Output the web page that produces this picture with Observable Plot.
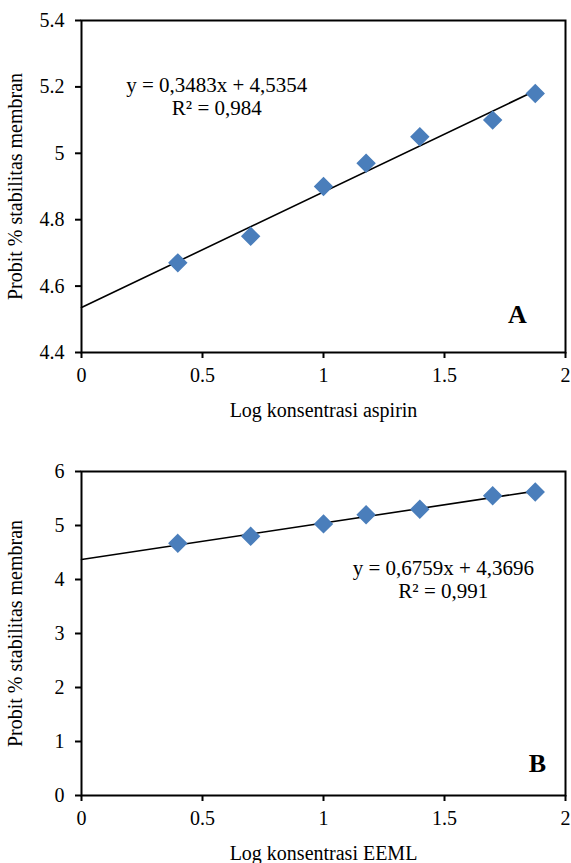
<!DOCTYPE html>
<html>
<head>
<meta charset="utf-8">
<script src="https://cdn.jsdelivr.net/npm/d3@7"></script>
<script src="https://cdn.jsdelivr.net/npm/@observablehq/plot@0.6"></script>
<style>
  html, body { margin: 0; padding: 0; background: #fff; overflow: hidden; }
  #chart svg { display: block; max-width: none !important; }
  #chart svg, #chart svg text, #chart svg g { font-family: "Liberation Serif", "Times New Roman", serif !important; }
</style>
</head>
<body>
<div id="chart"></div>
<script>
// Log concentration (x) shared by both panels
const logKonsentrasi = [0.398, 0.699, 1.0, 1.176, 1.398, 1.699, 1.875];
// Panel A: aspirin
const probitA = [4.67, 4.75, 4.90, 4.97, 5.05, 5.10, 5.18];
const slopeA = 0.3483, interceptA = 4.5354;
const eqA = ["y = 0,3483x + 4,5354", "R² = 0,984"];
// Panel B: EEML
const probitB = [4.67, 4.80, 5.03, 5.20, 5.30, 5.55, 5.62];
const slopeB = 0.6759, interceptB = 4.3696;
const eqB = ["y = 0,6759x + 4,3696", "R² = 0,991"];

const xTicks = [0, 0.5, 1, 1.5, 2];
const yTicksA = [4.4, 4.6, 4.8, 5, 5.2, 5.4];
const yTicksB = [0, 1, 2, 3, 4, 5, 6];

const FONT = '"Liberation Serif", "Times New Roman", serif';
const BLUE = "#4a7ebb";
const fmt = d => String(+d.toFixed(2));

function panel({probit, slope, intercept, eq, yDomain, yTicks, xLabel, tag, tagOffset, eqPos, height, marginTop, marginBottom}) {
  const pts = logKonsentrasi.map((x, i) => ({x, y: probit[i]}));
  const trend = [0, logKonsentrasi[logKonsentrasi.length - 1]].map(x => ({x, y: slope * x + intercept}));
  return Plot.plot({
    width: 571,
    height,
    marginLeft: 81,
    marginRight: 6,
    marginTop,
    marginBottom,
    style: {fontFamily: FONT, fontSize: "20px", color: "#000", background: "#fff"},
    x: {domain: [0, 2], ticks: xTicks, tickFormat: fmt, label: null},
    y: {domain: yDomain, ticks: yTicks, tickFormat: fmt, label: null},
    marks: [
      Plot.axisX({ticks: xTicks, tickFormat: fmt, tickSize: 6, tickPadding: 9, strokeWidth: 2, fontSize: 20, fontFamily: FONT,
        label: xLabel, labelAnchor: "center", labelOffset: 64, labelArrow: "none"}),
      Plot.axisY({ticks: yTicks, tickFormat: fmt, tickSize: 6, tickPadding: 11, strokeWidth: 2, fontSize: 20, fontFamily: FONT,
        label: "Probit % stabilitas membran", labelAnchor: "center", labelOffset: 74, labelArrow: "none"}),
      Plot.frame({stroke: "#000", strokeWidth: 2}),
      Plot.line(trend, {x: "x", y: "y", stroke: "#000", strokeWidth: 1.6}),
      Plot.dot(pts, {x: "x", y: "y", symbol: "diamond2", r: 7.8, fill: BLUE, stroke: BLUE}),
      Plot.text([eq.join("\n")], {x: eqPos[0], y: eqPos[1], text: d => d, fontSize: 21, fontFamily: FONT, lineHeight: 1.1, textAnchor: "middle", lineAnchor: "middle", fill: "#000"}),
      Plot.text([tag], {frameAnchor: "bottom-right", dx: tagOffset[0], dy: tagOffset[1], text: d => d, fontSize: 26, fontFamily: FONT, fontWeight: "bold", textAnchor: "middle", lineAnchor: "middle", fill: "#000"})
    ]
  });
}

const chartA = panel({
  probit: probitA, slope: slopeA, intercept: interceptA, eq: eqA,
  yDomain: [4.4, 5.4], yTicks: yTicksA, xLabel: "Log konsentrasi aspirin", tag: "A", tagOffset: [-48, -38],
  eqPos: [0.559, 5.171], height: 430, marginTop: 20, marginBottom: 78
});
const chartB = panel({
  probit: probitB, slope: slopeB, intercept: interceptB, eq: eqB,
  yDomain: [0, 6], yTicks: yTicksB, xLabel: "Log konsentrasi EEML", tag: "B", tagOffset: [-28, -32],
  eqPos: [1.495, 4.0], height: 433, marginTop: 41, marginBottom: 68
});
document.getElementById("chart").append(chartA, chartB);
</script>
</body>
</html>
